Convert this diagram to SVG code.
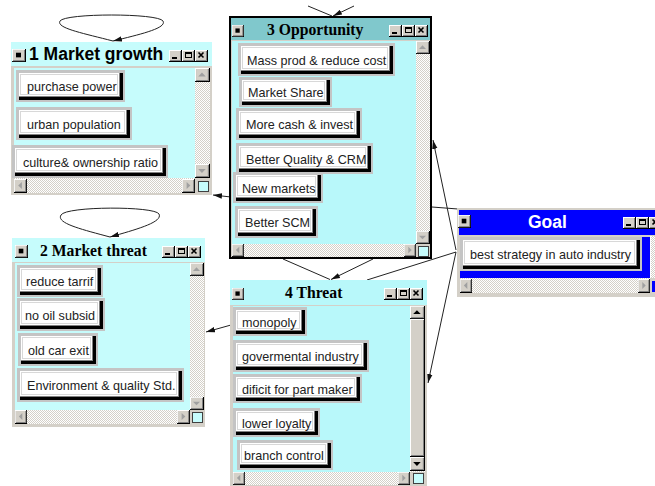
<svg xmlns="http://www.w3.org/2000/svg" xmlns:xlink="http://www.w3.org/1999/xlink" width="655" height="486" viewBox="0 0 655 486">
<defs>
<style>
.frm{fill:#d4d0c8}
.cy{fill:#c6fcfc}
.cy2{fill:#b8f8fa}
.trk{fill:url(#dith)}
.bf{fill:#c4c4c4}
.bk{fill:#000}
.bg{fill:#808080}
.bw{fill:#fff}
.bl{fill:none;stroke:#d8d8d8;stroke-width:1}
.lbl{font-family:"Liberation Sans",Arial,sans-serif;font-size:12.6px;fill:#222}
.ts{font-family:"Liberation Sans",Arial,sans-serif;font-size:17.5px;font-weight:bold;fill:#000}
.tr{font-family:"Liberation Serif","Times New Roman",serif;font-size:15.7px;font-weight:bold;fill:#000}
.box{fill:#c6fcfc;stroke:#404040;stroke-width:1}
.con{fill:none;stroke:#222;stroke-width:1}
</style>
<pattern id="dith" width="2" height="2" patternUnits="userSpaceOnUse"><rect width="2" height="2" fill="#ffffff"/><rect width="1" height="1" fill="#d4d0c8"/><rect x="1" y="1" width="1" height="1" fill="#d4d0c8"/></pattern>
<marker id="ah" viewBox="0 0 10 6" refX="10" refY="3" markerWidth="9" markerHeight="6" markerUnits="userSpaceOnUse" orient="auto"><path d="M0,0 L10,3 L0,6 z" fill="#111"/></marker>
<g id="fr12"><rect width="13" height="12" fill="#000"/><rect width="12" height="11" fill="#fff"/><rect x="1" y="1" width="11" height="10" fill="#808080"/><rect x="1" y="1" width="10" height="9" fill="#d4d0c8"/></g>
<g id="fr14"><rect width="14" height="14" fill="#000"/><rect width="13" height="13" fill="#fff"/><rect x="1" y="1" width="12" height="12" fill="#808080"/><rect x="1" y="1" width="11" height="11" fill="#d4d0c8"/></g>
<symbol id="cmin" viewBox="0 0 13 12" preserveAspectRatio="none"><use xlink:href="#fr12"/><rect x="3" y="7" width="5" height="2" fill="#000"/></symbol>
<symbol id="cmax" viewBox="0 0 13 12" preserveAspectRatio="none"><use xlink:href="#fr12"/><rect x="3.5" y="2.5" width="6" height="5" fill="none" stroke="#000"/><rect x="3" y="2" width="7" height="2" fill="#000"/></symbol>
<symbol id="ccls" viewBox="0 0 13 12" preserveAspectRatio="none"><use xlink:href="#fr12"/><path d="M3.5,2.5 L8.5,7.5 M8.5,2.5 L3.5,7.5" stroke="#000" stroke-width="1.6"/></symbol>
<symbol id="sys" viewBox="0 0 14 14" preserveAspectRatio="none"><use xlink:href="#fr14"/><rect x="4" y="4" width="5" height="5" fill="#000"/></symbol>
<symbol id="sup" viewBox="0 0 14 14" preserveAspectRatio="none"><use xlink:href="#fr14"/><path d="M6.5,4.5 L10,8.5 L3,8.5 z"/></symbol>
<symbol id="sdn" viewBox="0 0 14 14" preserveAspectRatio="none"><use xlink:href="#fr14"/><path d="M3,5 L10,5 L6.5,9 z"/></symbol>
<symbol id="slt" viewBox="0 0 14 14" preserveAspectRatio="none"><use xlink:href="#fr14"/><path d="M4.5,6.5 L8.5,3 L8.5,10 z"/></symbol>
<symbol id="srt" viewBox="0 0 14 14" preserveAspectRatio="none"><use xlink:href="#fr14"/><path d="M9,6.5 L5,3 L5,10 z"/></symbol>
</defs>
<rect width="655" height="486" fill="#fff"/>

<g id="connectors">
<path class="con" d="M113,41 C82,33 56,28 60,21 C65,13 158,13 163,21 C167,28 142,34 113,41" marker-end="url(#ah)"/>
<path class="con" d="M110,237 C80,229 56,223 61,215 C66,206 155,206 159,214 C163,222 138,229 110,237" marker-end="url(#ah)"/>
<path class="con" d="M308,6 L332,16"/>
<path class="con" d="M354,6 L333,16" marker-end="url(#ah)"/>
<path class="con" d="M283,259 L330,279.5"/>
<path class="con" d="M373,259 L331,279.5" marker-end="url(#ah)"/>
<path class="con" d="M456,250 L433,140" marker-end="url(#ah)"/>
<path class="con" d="M432,207 L458,209"/>
<path class="con" d="M456,252 L367,280"/>
<path class="con" d="M456,252 L428,383" marker-end="url(#ah)"/>
<path class="con" d="M231,197 L213,195" marker-end="url(#ah)"/>
<path class="con" d="M231,325 L206,332" marker-end="url(#ah)"/>
</g>

<g id="market-growth">
<rect class="frm" x="11" y="42" width="201" height="153"/>
<rect class="cy" x="11" y="42" width="201" height="24"/>
<rect class="cy" x="14" y="68" width="181" height="110"/>
<use xlink:href="#sys" x="12" y="49" width="14" height="13"/>
<text class="ts" x="29" y="60">1 Market growth</text>
<use xlink:href="#cmin" x="169" y="50" width="13" height="12"/>
<use xlink:href="#cmax" x="182" y="50" width="13" height="12"/>
<use xlink:href="#ccls" x="195" y="50" width="13" height="12"/>
<rect class="trk" x="195" y="68" width="15" height="110"/>
<use xlink:href="#sup" x="195" y="68" width="15" height="14" fill="#a0a0a0"/>
<use xlink:href="#sdn" x="195" y="164" width="15" height="14" fill="#a0a0a0"/>
<rect class="trk" x="14" y="178" width="181" height="15"/>
<use xlink:href="#slt" x="14" y="179" width="13" height="14" fill="#a0a0a0"/>
<use xlink:href="#srt" x="182" y="179" width="13" height="14" fill="#a0a0a0"/>
<rect class="frm" x="195" y="178" width="15" height="15"/>
<rect class="box" x="198.5" y="181.5" width="10" height="10"/>
<rect class="bf" x="16" y="70" width="109" height="32"/><rect class="bk" x="19" y="73" width="104" height="27"/><rect class="bg" x="19" y="73" width="101" height="24"/><rect class="bw" x="19" y="73" width="100" height="23"/><rect class="bl" x="20.5" y="74.5" width="97" height="20"/>
<text class="lbl" x="27" y="91">purchase power</text>
<rect class="bf" x="16" y="107" width="116" height="33"/><rect class="bk" x="19" y="110" width="111" height="28"/><rect class="bg" x="19" y="110" width="108" height="25"/><rect class="bw" x="19" y="110" width="107" height="24"/><rect class="bl" x="20.5" y="111.5" width="104" height="21"/>
<text class="lbl" x="27" y="128.5">urban population</text>
<rect class="bf" x="12" y="145" width="156" height="33"/><rect class="bk" x="15" y="148" width="151" height="28"/><rect class="bg" x="15" y="148" width="148" height="25"/><rect class="bw" x="15" y="148" width="147" height="24"/><rect class="bl" x="16.5" y="149.5" width="144" height="21"/>
<text class="lbl" x="23" y="166.5">culture&amp; ownership ratio</text>
</g>

<g id="market-threat">
<rect class="frm" x="12" y="238" width="193" height="189"/>
<rect class="cy" x="12" y="238" width="193" height="24"/>
<rect class="cy" x="15" y="263" width="175" height="147"/>
<use xlink:href="#sys" x="15" y="245" width="13" height="13"/>
<text class="tr" x="40" y="256">2 Market threat</text>
<use xlink:href="#cmin" x="162" y="246" width="13" height="12"/>
<use xlink:href="#cmax" x="175" y="246" width="13" height="12"/>
<use xlink:href="#ccls" x="188" y="246" width="13" height="12"/>
<rect class="trk" x="190" y="263" width="14" height="147"/>
<use xlink:href="#sup" x="190" y="263" width="14" height="13" fill="#a0a0a0"/>
<use xlink:href="#sdn" x="190" y="397" width="14" height="13" fill="#a0a0a0"/>
<rect class="trk" x="15" y="410" width="175" height="14"/>
<use xlink:href="#slt" x="15" y="410" width="12" height="14" fill="#a0a0a0"/>
<use xlink:href="#srt" x="177" y="410" width="13" height="14" fill="#a0a0a0"/>
<rect class="frm" x="190" y="410" width="14" height="14"/>
<rect class="box" x="192.5" y="412.5" width="10" height="10"/>
<rect class="bf" x="17" y="265" width="86" height="32"/><rect class="bk" x="20" y="268" width="81" height="27"/><rect class="bg" x="20" y="268" width="78" height="24"/><rect class="bw" x="20" y="268" width="77" height="23"/><rect class="bl" x="21.5" y="269.5" width="74" height="20"/>
<text class="lbl" x="26" y="286">reduce tarrif</text>
<rect class="bf" x="17" y="298" width="88" height="33"/><rect class="bk" x="20" y="301" width="83" height="28"/><rect class="bg" x="20" y="301" width="80" height="25"/><rect class="bw" x="20" y="301" width="79" height="24"/><rect class="bl" x="21.5" y="302.5" width="76" height="21"/>
<text class="lbl" x="25" y="319.5">no oil subsid</text>
<rect class="bf" x="18" y="333" width="80" height="33"/><rect class="bk" x="21" y="336" width="75" height="28"/><rect class="bg" x="21" y="336" width="72" height="25"/><rect class="bw" x="21" y="336" width="71" height="24"/><rect class="bl" x="22.5" y="337.5" width="68" height="21"/>
<text class="lbl" x="28" y="354.5">old car exit</text>
<rect class="bf" x="17" y="368" width="167" height="34"/><rect class="bk" x="20" y="371" width="162" height="29"/><rect class="bg" x="20" y="371" width="159" height="26"/><rect class="bw" x="20" y="371" width="158" height="25"/><rect class="bl" x="21.5" y="372.5" width="155" height="22"/>
<text class="lbl" x="27" y="390">Environment &amp; quality Std.</text>
</g>

<g id="opportunity">
<rect class="frm" x="230" y="17" width="201" height="241" stroke="#000" stroke-width="2"/>
<rect fill="#80c8cc" x="231" y="18" width="199" height="22"/>
<rect class="cy2" x="232" y="41" width="184" height="203"/>
<use xlink:href="#sys" x="232" y="25" width="12" height="12"/>
<text class="tr" x="267" y="35">3 Opportunity</text>
<use xlink:href="#cmin" x="389" y="25" width="13" height="12"/>
<use xlink:href="#cmax" x="402" y="25" width="13" height="12"/>
<use xlink:href="#ccls" x="415" y="25" width="13" height="12"/>
<rect class="trk" x="416" y="41" width="14" height="203"/>
<use xlink:href="#sup" x="416" y="41" width="14" height="13" fill="#a0a0a0"/>
<use xlink:href="#sdn" x="416" y="231" width="14" height="13" fill="#a0a0a0"/>
<rect class="trk" x="232" y="244" width="184" height="13"/>
<use xlink:href="#slt" x="232" y="244" width="12" height="13" fill="#a0a0a0"/>
<use xlink:href="#srt" x="404" y="244" width="12" height="13" fill="#a0a0a0"/>
<rect class="frm" x="416" y="244" width="14" height="13"/>
<rect class="box" x="418.5" y="246.5" width="10" height="10"/>
<rect class="bf" x="238" y="43" width="157" height="33"/><rect class="bk" x="241" y="46" width="152" height="28"/><rect class="bg" x="241" y="46" width="149" height="25"/><rect class="bw" x="241" y="46" width="148" height="24"/><rect class="bl" x="242.5" y="47.5" width="145" height="21"/>
<text class="lbl" x="247" y="64.5">Mass prod &amp; reduce cost</text>
<rect class="bf" x="239" y="77" width="93" height="30"/><rect class="bk" x="242" y="80" width="88" height="25"/><rect class="bg" x="242" y="80" width="85" height="22"/><rect class="bw" x="242" y="80" width="84" height="21"/><rect class="bl" x="243.5" y="81.5" width="81" height="18"/>
<text class="lbl" x="248" y="97">Market Share</text>
<rect class="bf" x="236" y="108" width="126" height="32"/><rect class="bk" x="239" y="111" width="121" height="27"/><rect class="bg" x="239" y="111" width="118" height="24"/><rect class="bw" x="239" y="111" width="117" height="23"/><rect class="bl" x="240.5" y="112.5" width="114" height="20"/>
<text class="lbl" x="246" y="129">More cash &amp; invest</text>
<rect class="bf" x="236" y="143" width="137" height="31"/><rect class="bk" x="239" y="146" width="132" height="26"/><rect class="bg" x="239" y="146" width="129" height="23"/><rect class="bw" x="239" y="146" width="128" height="22"/><rect class="bl" x="240.5" y="147.5" width="125" height="19"/>
<text class="lbl" x="246" y="163.5">Better Quality &amp; CRM</text>
<rect class="bf" x="233" y="172" width="90" height="31"/><rect class="bk" x="236" y="175" width="85" height="26"/><rect class="bg" x="236" y="175" width="82" height="23"/><rect class="bw" x="236" y="175" width="81" height="22"/><rect class="bl" x="237.5" y="176.5" width="78" height="19"/>
<text class="lbl" x="242" y="192.5">New markets</text>
<rect class="bf" x="235" y="206" width="83" height="32"/><rect class="bk" x="238" y="209" width="78" height="27"/><rect class="bg" x="238" y="209" width="75" height="24"/><rect class="bw" x="238" y="209" width="74" height="23"/><rect class="bl" x="239.5" y="210.5" width="71" height="20"/>
<text class="lbl" x="245" y="227">Better SCM</text>
</g>

<g id="threat">
<rect class="frm" x="230" y="280" width="197" height="206"/>
<rect class="cy2" x="230" y="280" width="197" height="25"/>
<rect class="cy2" x="233" y="306" width="177" height="166"/>
<use xlink:href="#sys" x="232" y="288" width="12" height="12"/>
<text class="tr" x="285" y="298">4 Threat</text>
<use xlink:href="#cmin" x="384" y="288" width="13" height="12"/>
<use xlink:href="#cmax" x="397" y="288" width="13" height="12"/>
<use xlink:href="#ccls" x="410" y="288" width="13" height="12"/>
<rect class="trk" x="410" y="306" width="15" height="166"/>
<use xlink:href="#sup" x="410" y="306" width="15" height="13" fill="#000"/>
<rect x="410" y="319" width="15" height="138" fill="#000"/><rect x="410" y="319" width="14" height="137" fill="#fff"/><rect x="411" y="320" width="13" height="136" fill="#808080"/><rect x="411" y="320" width="12" height="135" fill="#d4d0c8"/>
<use xlink:href="#sdn" x="410" y="457" width="15" height="14" fill="#000"/>
<rect class="trk" x="233" y="472" width="177" height="13"/>
<use xlink:href="#slt" x="233" y="472" width="12" height="13" fill="#a0a0a0"/>
<use xlink:href="#srt" x="398" y="472" width="12" height="13" fill="#a0a0a0"/>
<rect class="frm" x="410" y="472" width="15" height="13"/>
<rect class="box" x="413.5" y="473.5" width="10" height="10"/>
<rect class="bf" x="233" y="307" width="74" height="29"/><rect class="bk" x="236" y="310" width="69" height="24"/><rect class="bg" x="236" y="310" width="66" height="21"/><rect class="bw" x="236" y="310" width="65" height="20"/><rect class="bl" x="237.5" y="311.5" width="62" height="17"/>
<text class="lbl" x="242" y="326.5">monopoly</text>
<rect class="bf" x="233" y="340" width="136" height="32"/><rect class="bk" x="236" y="343" width="131" height="27"/><rect class="bg" x="236" y="343" width="128" height="24"/><rect class="bw" x="236" y="343" width="127" height="23"/><rect class="bl" x="237.5" y="344.5" width="124" height="20"/>
<text class="lbl" x="242" y="361">govermental industry</text>
<rect class="bf" x="233" y="374" width="129" height="29"/><rect class="bk" x="236" y="377" width="124" height="24"/><rect class="bg" x="236" y="377" width="121" height="21"/><rect class="bw" x="236" y="377" width="120" height="20"/><rect class="bl" x="237.5" y="378.5" width="117" height="17"/>
<text class="lbl" x="242" y="393.5">dificit for part maker</text>
<rect class="bf" x="233" y="408" width="87" height="29"/><rect class="bk" x="236" y="411" width="82" height="24"/><rect class="bg" x="236" y="411" width="79" height="21"/><rect class="bw" x="236" y="411" width="78" height="20"/><rect class="bl" x="237.5" y="412.5" width="75" height="17"/>
<text class="lbl" x="242" y="427.5">lower loyalty</text>
<rect class="bf" x="237" y="440" width="96" height="30"/><rect class="bk" x="240" y="443" width="91" height="25"/><rect class="bg" x="240" y="443" width="88" height="22"/><rect class="bw" x="240" y="443" width="87" height="21"/><rect class="bl" x="241.5" y="444.5" width="84" height="18"/>
<text class="lbl" x="244" y="460">branch control</text>
</g>

<g id="goal">
<rect class="frm" x="457" y="208" width="200" height="89"/>
<rect fill="#0000ff" x="459" y="210" width="198" height="25"/>
<rect fill="#0000ff" x="460" y="237" width="190" height="41"/>
<use xlink:href="#sys" x="458" y="215" width="13" height="13"/>
<text class="ts" x="528" y="228" fill="#fff" style="fill:#fff">Goal</text>
<use xlink:href="#cmin" x="623" y="217" width="13" height="12"/>
<use xlink:href="#cmax" x="636" y="217" width="13" height="12"/>
<use xlink:href="#ccls" x="649" y="217" width="13" height="12"/>
<rect class="trk" x="650" y="236" width="7" height="42"/>
<rect x="650" y="236" width="1" height="42" fill="#fff"/>
<rect class="trk" x="460" y="278" width="190" height="15"/>
<use xlink:href="#slt" x="460" y="279" width="12" height="14" fill="#a0a0a0"/>
<use xlink:href="#srt" x="638" y="279" width="12" height="14" fill="#a0a0a0"/>
<rect class="frm" x="650" y="278" width="7" height="15"/>
<rect fill="#0000ff" x="652" y="281" width="5" height="11"/>
<rect class="bf" x="460" y="237" width="182" height="34"/><rect class="bk" x="463" y="240" width="177" height="29"/><rect class="bg" x="463" y="240" width="174" height="26"/><rect class="bw" x="463" y="240" width="173" height="25"/><rect class="bl" x="464.5" y="241.5" width="170" height="22"/>
<text class="lbl" x="470" y="259">best strategy in auto industry</text>
</g>
</svg>
